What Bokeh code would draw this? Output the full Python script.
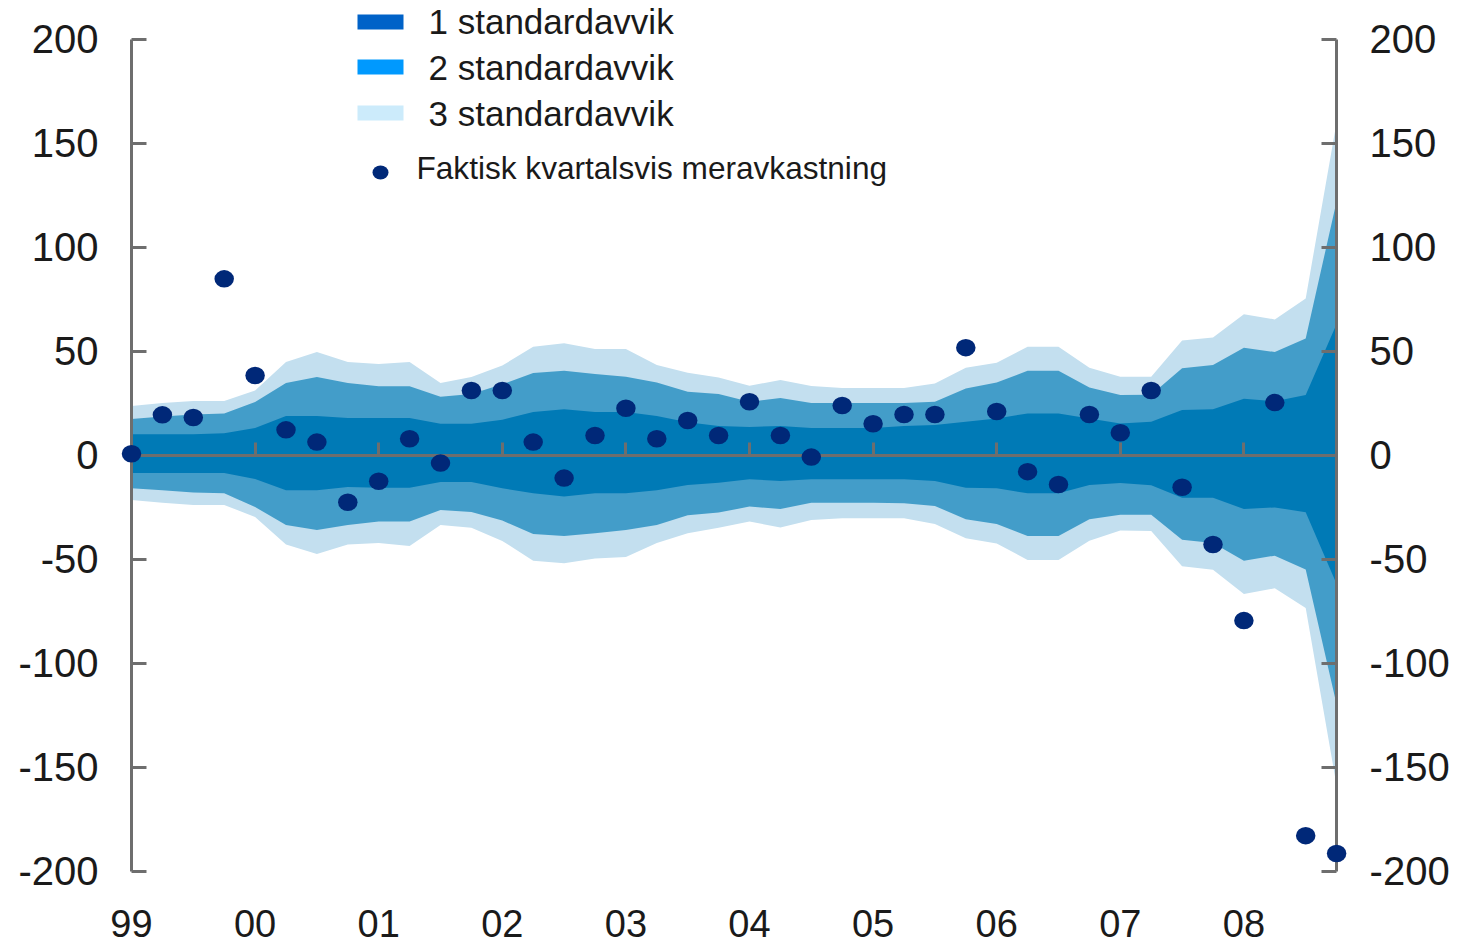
from bokeh.plotting import figure
from bokeh.models import Range1d, LinearAxis, FixedTicker, ColumnDataSource
from bokeh.core.properties import value
from bokeh.embed import file_html
from bokeh.resources import INLINE

# ---------------- data ----------------
quarter_index = list(range(40))          # 1999 Q1 ... 2008 Q4
years = [1999, 2000, 2001, 2002, 2003, 2004, 2005, 2006, 2007, 2008]
year_labels = ["99", "00", "01", "02", "03", "04", "05", "06", "07", "08"]
y_ticks = [-200, -150, -100, -50, 0, 50, 100, 150, 200]
y_tick_labels = ["-200", "-150", "-100", "-50", "0", "50", "100", "150", "200"]

excess_return = [0.6, 19.3, 18.0, 84.7, 38.2, 12.1, 6.2, -22.7, -12.6, 7.8,
                 -3.9, 31.0, 31.0, 6.2, -11.1, 9.4, 22.5, 7.8, 16.6, 9.4,
                 25.6, 9.4, -1.0, 23.8, 15.0, 19.5, 19.5, 51.6, 20.9, -8.0,
                 -14.2, 19.5, 10.7, 31.0, -15.5, -43.0, -79.6, 25.2, -183.0, -191.6]

upper_1sd = [10, 10, 10, 10.5, 13, 18.7, 18.7, 17.8, 17.8, 17.8,
             15, 15, 17, 20.7, 22, 20.7, 20.7, 18.7, 15.8, 14,
             13.5, 14, 13, 13, 13, 14, 14.4, 16, 17.6, 20,
             20, 17.6, 15.2, 16, 21.6, 22, 27, 25.8, 28.8, 63]
upper_2sd = [17.3, 18.5, 19.5, 20, 25.5, 34.6, 37.5, 34.6, 33, 33,
             28, 29.3, 34, 39.4, 40.5, 39, 37.6, 34.8, 30.4, 29.3,
             25.6, 27.4, 25, 25, 25, 25, 25.6, 32, 34.8, 40.5,
             40.5, 32.5, 28.8, 29, 41.7, 43.3, 51.6, 49.5, 56, 122]
upper_3sd = [23.5, 25, 26, 26, 31, 44.7, 49.5, 44.7, 43.7, 44.7,
             34.6, 37.5, 43, 52, 53.7, 51, 51, 43.3, 39.6, 37.2,
             33.3, 36, 33.2, 32.2, 32.2, 32.2, 34.4, 42, 44.4, 52,
             52, 42, 37.6, 37.6, 55, 56.5, 67.7, 65.2, 75.3, 160]
lower_1sd = [-8.7, -8.7, -8.7, -8.7, -11.5, -17, -17, -15.4, -15.8, -15.8,
             -13, -13, -16, -18.4, -20, -18.4, -18.4, -17, -14.4, -13.3,
             -11.7, -12.5, -11.7, -11.7, -11.7, -11.7, -12.5, -15.7, -16, -18.4,
             -18.4, -14.4, -13.5, -14.6, -20.5, -20.5, -26, -25.2, -27.5, -62]
lower_2sd = [-16, -17, -18, -18.4, -25, -33.7, -36, -33.7, -32, -32,
             -26.4, -27.4, -31.5, -38, -39, -37.6, -36, -33.7, -29, -27.7,
             -24.8, -26, -23, -23, -23, -23.2, -24.5, -30.9, -33.2, -39,
             -39, -30.9, -28.7, -28.7, -40.7, -42.3, -50.8, -48.4, -55, -120]
lower_3sd = [-21.6, -23, -24, -24, -29.8, -43, -47.6, -43, -42.3, -43.7,
             -33.7, -35, -41.3, -50.8, -52, -49.7, -49, -42.3, -37.6, -35,
             -32, -34.8, -31.2, -30.4, -30.4, -30.4, -33.2, -40, -42.5, -50.5,
             -50.5, -41.2, -36.3, -36.5, -53.5, -55.2, -66.8, -64.1, -73.6, -159]

legend_labels = ["1 standardavvik", "2 standardavvik", "3 standardavvik"]
dot_label = "Faktisk kvartalsvis meravkastning"

# ---------------- styles ----------------
BAND1 = "#007ab6"
BAND2 = "#439dc9"
BAND3 = "#c3dfef"
LEG1 = "#0062c8"
LEG2 = "#0099fe"
LEG3 = "#ccebfb"
DOT = "#002878"
AXIS = "#6e6e6e"
TXT = "#1a1a1a"
FONT = "Liberation Sans"

W, H = 1459, 947
X0_PX = 131.0          # px of 1999
PX_PER_YEAR = 123.6
Y0_PX = 454.5          # px of value 0
PX_PER_UNIT = 2.08

x_start = 1999 - X0_PX / PX_PER_YEAR
x_end = x_start + W / PX_PER_YEAR
y_end = Y0_PX / PX_PER_UNIT
y_start = y_end - H / PX_PER_UNIT


def fx(px):
    return x_start + px / PX_PER_YEAR


def fy(py):
    return y_end - py / PX_PER_UNIT


x = [1999 + q / 4 for q in quarter_index]
src = ColumnDataSource(dict(x=x, r=excess_return,
                            u1=upper_1sd, u2=upper_2sd, u3=upper_3sd,
                            l1=lower_1sd, l2=lower_2sd, l3=lower_3sd))

p = figure(width=W, height=H, output_backend="svg", toolbar_location=None,
           x_range=Range1d(x_start, x_end), y_range=Range1d(y_start, y_end),
           x_axis_location=None, y_axis_location=None, min_border=0)
p.grid.visible = False
p.outline_line_color = None
p.background_fill_color = "white"
p.border_fill_color = "white"

p.varea(x="x", y1="l3", y2="u3", source=src, fill_color=BAND3)
p.varea(x="x", y1="l2", y2="u2", source=src, fill_color=BAND2)
p.varea(x="x", y1="l1", y2="u1", source=src, fill_color=BAND1)


def style_axis(ax):
    ax.axis_line_color = AXIS
    ax.axis_line_width = 3
    ax.major_tick_line_color = AXIS
    ax.major_tick_line_width = 3
    ax.minor_tick_line_color = None
    ax.major_label_text_font = FONT
    ax.major_label_text_font_size = "40px"
    ax.major_label_text_color = TXT


for side, loc in (("left", 1999), ("right", 2008.75)):
    ax = LinearAxis(fixed_location=loc, bounds=(-200, 200), ticker=FixedTicker(ticks=y_ticks),
                    major_label_overrides={v: s for v, s in zip(y_ticks, y_tick_labels)})
    style_axis(ax)
    ax.major_tick_in = 15
    ax.major_tick_out = 0
    ax.major_label_standoff = 33
    p.add_layout(ax, side)

zero_axis = LinearAxis(fixed_location=0, bounds=(1999, 2008.75), ticker=FixedTicker(ticks=years[1:]))
style_axis(zero_axis)
zero_axis.major_tick_in = 13
zero_axis.major_tick_out = 0
zero_axis.major_label_text_font_size = "0px"
zero_axis.major_label_text_alpha = 0
p.add_layout(zero_axis, "below")

label_axis = LinearAxis(fixed_location=-200, ticker=FixedTicker(ticks=years),
                        major_label_overrides={yv: lab for yv, lab in zip(years, year_labels)})
style_axis(label_axis)
label_axis.major_label_text_font_size = "38px"
label_axis.axis_line_color = None
label_axis.major_tick_line_color = None
label_axis.major_tick_in = 0
label_axis.major_tick_out = 0
label_axis.major_label_standoff = 39
p.add_layout(label_axis, "below")

dots = p.ellipse(x="x", y="r", width=19.5, height=17.5, width_units="screen", height_units="screen",
                 source=src, fill_color=DOT, line_color=None)
dots.level = "annotation"

# ---------------- legend (positions in page px) ----------------
sw_left, sw_right = 357, 403
sw_tops = [14, 59, 105]
sw_h = 15
leg_src = ColumnDataSource(dict(
    left=[fx(sw_left)] * 3, right=[fx(sw_right)] * 3,
    top=[fy(t) for t in sw_tops], bottom=[fy(t + sw_h) for t in sw_tops],
    color=[LEG1, LEG2, LEG3]))
p.quad(left="left", right="right", top="top", bottom="bottom", fill_color="color",
       line_color=None, source=leg_src)

txt_base = [21, 67, 113]
p.text(x=[fx(428)] * 3, y=[fy(b) for b in txt_base], text=legend_labels,
       text_font=value(FONT), text_font_size=value("35px"), text_color=TXT,
       text_baseline="alphabetic", text_align="left")

p.ellipse(x=[fx(380)], y=[fy(172)], width=16, height=14, width_units="screen",
          height_units="screen", fill_color=DOT, line_color=None)
p.text(x=[fx(416)], y=[fy(167)], text=[dot_label],
       text_font=value(FONT), text_font_size=value("31.6px"), text_color=TXT,
       text_baseline="alphabetic", text_align="left")

open("out.html", "w").write(file_html(p, INLINE))
